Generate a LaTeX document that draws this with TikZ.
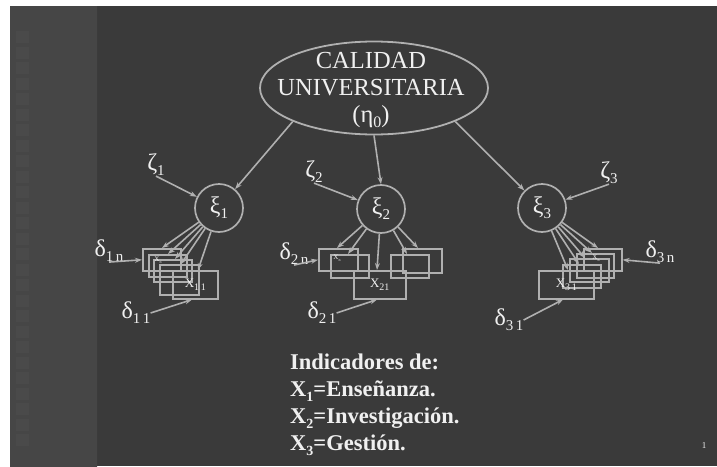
\documentclass[tikz,border=0pt]{standalone}
\usepackage{fontspec}
\setmainfont{Liberation Serif}
\usetikzlibrary{arrows.meta,shapes.geometric}
\definecolor{slidebg}{RGB}{58,58,58}
\definecolor{stripgray}{RGB}{70,70,70}
\definecolor{squaregray}{RGB}{74,74,74}
\definecolor{linegray}{RGB}{176,176,176}
\definecolor{txtwhite}{RGB}{240,240,240}
\newcommand{\subsc}[2][15]{\raisebox{-0.45ex}{\fontsize{#1}{#1}\selectfont #2}}

\begin{document}
\begin{tikzpicture}[x=1pt,y=-1pt,
  latente/.style={circle,draw=linegray,line width=1.7pt,minimum size=48pt,inner sep=0pt,text=txtwhite,font=\fontsize{24}{24}\selectfont},
  indic/.style={draw=linegray,line width=1.6pt,inner sep=0pt,anchor=north west,text=txtwhite,font=\fontsize{13}{13}\selectfont},
  etiq/.style={text=txtwhite,inner sep=0pt,font=\fontsize{24}{24}\selectfont},
  flecha/.style={draw=linegray,line width=1.6pt,-{Stealth[length=7pt,width=5pt]}}]
\useasboundingbox (0,0) rectangle (717,466);

%Shape: Rectangle (fondo)
\fill[white] (0,0) rectangle (717,466);
\fill[slidebg] (10,6) rectangle (717,466);
\shade[top color=stripgray,middle color=black,bottom color=stripgray] (10,6) rectangle (97,466);
\foreach \k in {0,...,26}
  \fill[squaregray] (16,{31+15.5*\k}) rectangle ++(13,12);

%Shape: Ellipse
\node[ellipse,draw=linegray,line width=1.8pt,minimum width=228pt,minimum height=93pt,inner sep=0pt] (eta) at (374,88) {};
% Text Node
\node[etiq,align=center,font=\fontsize{24.5}{27}\selectfont] (etatexto) at (371,90) {CALIDAD\\UNIVERSITARIA\\(η\subsc[16]{0})};

%Shape: Circle
\node[latente] (xi1) at (219,208) {ξ\subsc{1}};
\node[latente] (xi2) at (381,209) {ξ\subsc{2}};
\node[latente] (xi3) at (542,208) {ξ\subsc{3}};

%Shape: Rectangle (indicadores 1)
\node[indic,minimum width=38pt,minimum height=22pt] (b1a) at (142,248) {};
\node[indic,minimum width=38pt,minimum height=22pt] (b1b) at (148,254) {};
\node[indic,minimum width=38pt,minimum height=22pt] (b1c) at (153,259) {};
\node[indic,minimum width=39pt,minimum height=30pt] (b1d) at (159,264) {};
\node[indic,minimum width=45pt,minimum height=28pt] (b1e) at (172,270) {X\subsc[10]{1\,1}};
%Shape: Rectangle (indicadores 2)
\node[indic,minimum width=39pt,minimum height=22pt] (b2a) at (318,248) {};
\node[indic,minimum width=38pt,minimum height=23pt] (b2b) at (330,254) {};
\node[indic,minimum width=52pt,minimum height=28pt] (b2c) at (353,270) {X\subsc[10]{21}};
\node[indic,minimum width=38pt,minimum height=23pt] (b2d) at (390,254) {};
\node[indic,minimum width=39pt,minimum height=24pt] (b2e) at (402,248) {};
%Shape: Rectangle (indicadores 3)
\node[indic,minimum width=38pt,minimum height=22pt] (b3a) at (583,248) {};
\node[indic,minimum width=37pt,minimum height=24pt] (b3b) at (576,253) {};
\node[indic,minimum width=39pt,minimum height=23pt] (b3c) at (569,258) {};
\node[indic,minimum width=38pt,minimum height=23pt] (b3d) at (562,264) {};
\node[indic,minimum width=55pt,minimum height=28pt] (b3e) at (538,270) {X\subsc[10]{3\,1}};
% Text Node (x pequenas)
\node[etiq,font=\fontsize{7}{7}\selectfont] (xn1) at (158,260) {X\subsc[4]{n}};
\node[etiq,font=\fontsize{7}{7}\selectfont] (xn2) at (337,258) {X\subsc[4]{n}};
\node[etiq,font=\fontsize{7}{7}\selectfont] (xn3) at (596,258) {X\subsc[4]{n}};

% Text Node (errores)
\node[etiq] (z1) at (156,165) {ζ\subsc{1}};
\node[etiq] (z2) at (314,172) {ζ\subsc{2}};
\node[etiq] (z3) at (609,173) {ζ\subsc{3}};
\node[etiq] (d1n) at (109,251) {δ\subsc{1\,n}};
\node[etiq] (d11) at (136,313) {δ\subsc{1\,1}};
\node[etiq] (d2n) at (294,254) {δ\subsc{2\,n}};
\node[etiq] (d21) at (322,313) {δ\subsc{2\,1}};
\node[etiq] (d3n) at (660,252) {δ\subsc{3\,n}};
\node[etiq] (d31) at (509,320) {δ\subsc{3\,1}};

%Straight Lines
\draw[flecha] (eta.south west) -- (xi1);
\draw[flecha] (eta.south) -- (xi2.north);
\draw[flecha] (eta.south east) -- (xi3);
\draw[flecha] (z1.south) -- (xi1);
\draw[flecha] (z2.south) -- (xi2);
\draw[flecha] (z3.south) -- (xi3);

\draw[flecha] (xi1) -- ([xshift=20pt]b1a.north west);
\draw[flecha] (xi1) -- ([xshift=20pt]b1b.north west);
\draw[flecha] (xi1) -- ([xshift=22pt]b1c.north west);
\draw[flecha] (xi1) -- ([xshift=22pt]b1d.north west);
\draw[flecha] (xi1) -- ([xshift=26pt]b1e.north west);
\draw[flecha] (xi2) -- ([xshift=19pt]b2a.north west);
\draw[flecha] (xi2) -- ([xshift=18pt]b2b.north west);
\draw[flecha] (xi2) -- ([xshift=24pt]b2c.north west);
\draw[flecha] (xi2) -- ([xshift=17pt]b2d.north west);
\draw[flecha] (xi2) -- ([xshift=16pt]b2e.north west);
\draw[flecha] (xi3) -- ([xshift=15pt]b3a.north west);
\draw[flecha] (xi3) -- ([xshift=16pt]b3b.north west);
\draw[flecha] (xi3) -- ([xshift=16pt]b3c.north west);
\draw[flecha] (xi3) -- ([xshift=17pt]b3d.north west);
\draw[flecha] (xi3) -- ([xshift=30pt]b3e.north west);

\draw[flecha] (d1n.south) -- (b1a.west);
\draw[flecha] (d11.east) -- ([xshift=20pt]b1e.south west);
\draw[flecha] (d2n.south) -- (b2a.west);
\draw[flecha] (d21.east) -- ([xshift=24pt]b2c.south west);
\draw[flecha] (d3n.south) -- (b3a.east);
\draw[flecha] (d31.east) -- ([xshift=25pt]b3e.south west);

% Text Node (leyenda)
\node[etiq,anchor=north west,align=left,font=\bfseries\fontsize{22.5}{27}\selectfont] (leyenda) at (290,354)
  {Indicadores de:\\X\subsc[14]{1}=Enseñanza.\\X\subsc[14]{2}=Investigación.\\X\subsc[14]{3}=Gestión.};
% Text Node
\node[etiq,font=\fontsize{9}{9}\selectfont] (pagina) at (704,446) {1};

\end{tikzpicture}
\end{document}
